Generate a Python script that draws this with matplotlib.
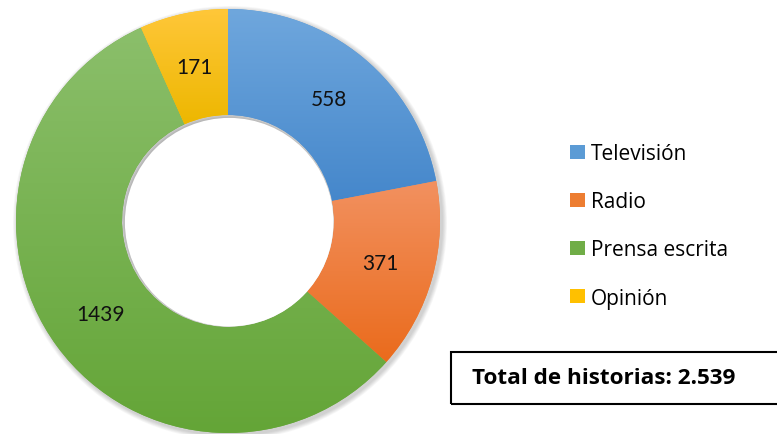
import numpy as np
import matplotlib.pyplot as plt
import matplotlib.colors as mcolors
from matplotlib.patches import Rectangle, Circle

# data
categories = ['Televisión', 'Radio', 'Prensa escrita', 'Opinión']
values = [558, 371, 1439, 171]
total_label = 'Total de historias: 2.539'

colors_top = ['#6fa7dd', '#f29160', '#8bbf6b', '#ffc73a']
colors_bot = ['#4587cb', '#ea6b1c', '#64a537', '#edb700']
colors_mid = ['#5b9bd5', '#ed7d31', '#70ad47', '#ffc000']

plt.rcParams['font.family'] = ['Lato', 'DejaVu Sans']

W, H = 777, 435
fig = plt.figure(figsize=(W / 100, H / 100), dpi=100)
ax = fig.add_axes([0, 0, 1, 1])

cx, cy, R = 228, 213, 212

# soft shadow behind the ring
for k in range(6):
    ax.add_patch(Circle((cx + 2, cy - 2), R + 1 + k * 0.8, color='k',
                        alpha=0.03, lw=0, zorder=0))

wedges, texts = ax.pie(values, startangle=90, counterclock=False,
                       colors=colors_mid, center=(cx, cy), radius=R,
                       wedgeprops=dict(width=R * 0.5, linewidth=0),
                       labels=[str(v) for v in values], labeldistance=0.745,
                       textprops=dict(fontsize=15, ha='center', va='center', color='#111111'))

# vertical gradient per wedge (lighter on top)
for w, ct, cb in zip(wedges, colors_top, colors_bot):
    ext = w.get_path().get_extents()
    cmap = mcolors.LinearSegmentedColormap.from_list('g', [cb, ct])
    grad = np.linspace(0, 1, 256).reshape(-1, 1)
    im = ax.imshow(grad, cmap=cmap, origin='lower', aspect='auto',
                   extent=[ext.x0, ext.x1, ext.y0, ext.y1], zorder=1.5,
                   interpolation='bilinear')
    im.set_clip_path(w)

for t in texts:
    t.set_zorder(3)

# subtle inner shadow of the hole (top-left)
for k in range(4):
    ax.add_patch(Circle((cx, cy), R * 0.5 - k * 0.8, color='k',
                        alpha=0.03, lw=0, zorder=2))
ax.add_patch(Circle((cx + 1.2, cy - 1.2), R * 0.5 - 1.7, color='white', lw=0, zorder=2.1))

# legend
leg = ax.legend(wedges, categories, loc='upper left', bbox_to_anchor=(562 / W, 1 - 136 / H),
                frameon=False, prop=dict(family='Open Sans', size=15),
                handlelength=0.68, handleheight=0.68,
                handletextpad=0.3, labelspacing=1.3, borderaxespad=0)

# total box
ax.add_patch(Rectangle((451, H - 405), 340, 52, fill=False, lw=1.5, ec='black', zorder=4))
ax.text(472, H - 379, total_label, fontsize=16.2, fontweight='bold', family='Open Sans',
        va='center', ha='left', zorder=5)

ax.set_xlim(0, W)
ax.set_ylim(0, H)
ax.set_aspect('auto')
ax.axis('off')

fig.savefig('out.png', dpi=100)
